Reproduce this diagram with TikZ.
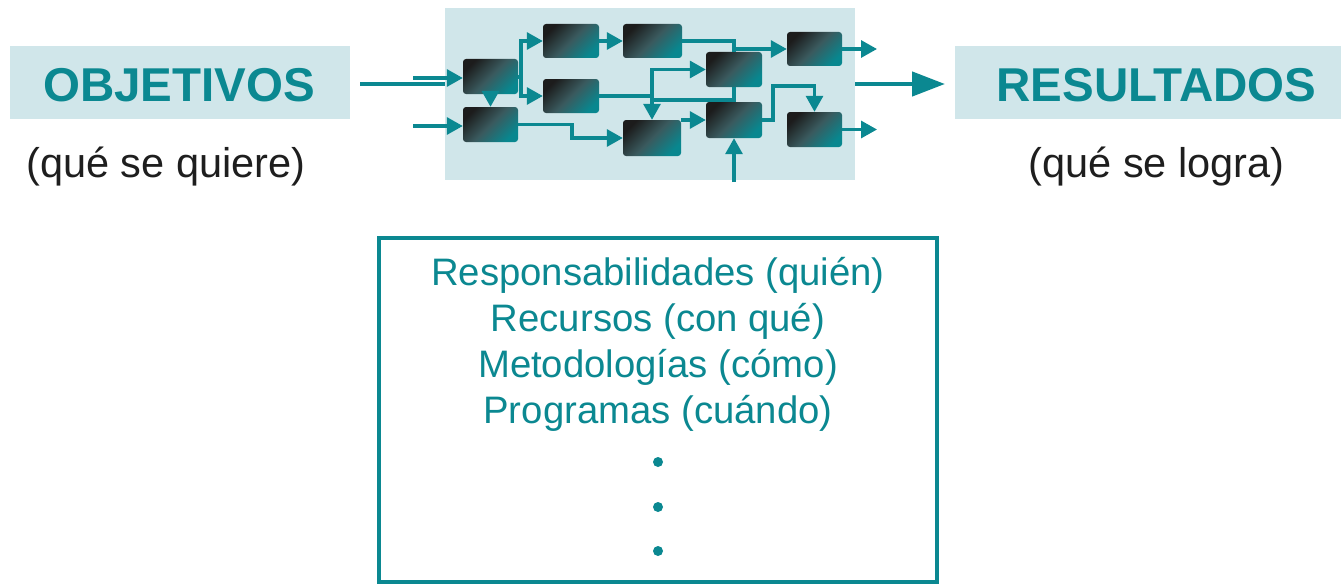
\documentclass[tikz,border=0pt]{standalone}
\usepackage{fontspec}
\setmainfont{Liberation Sans}
\usetikzlibrary{arrows.meta}
\definecolor{tealc}{HTML}{0B8891}
\definecolor{lightb}{HTML}{D0E6EA}
\definecolor{darkt}{HTML}{1E1E1E}
\definecolor{blkdark}{HTML}{1C1C1C}
\definecolor{blkmid}{HTML}{3A5A5E}
\definecolor{blkend}{HTML}{08878F}
\tikzset{
  titlebox/.style={fill=lightb, draw=none, inner sep=0pt},
  titletext/.style={text=tealc, font=\fontsize{47.5}{50}\selectfont\bfseries, inner sep=0pt},
  subtext/.style={text=darkt, font=\fontsize{41.5}{44}\selectfont, inner sep=0pt},
  blk/.style={rounded corners=3pt, inner sep=0pt, draw=none,
    left color=blkdark, right color=blkend, middle color=blkmid, shading angle=45},
  arr/.style={draw=tealc, line width=3.2pt, -{Triangle[length=16pt,width=17pt]}},
  ln/.style={draw=tealc, line width=3.2pt},
  thickln/.style={draw=tealc, line width=4.5pt},
  thickarr/.style={draw=tealc, line width=4.5pt, -{Triangle[length=33pt,width=24pt]}},
  dotn/.style={circle, fill=tealc, minimum size=10pt, inner sep=0pt},
}
\begin{document}
\begin{tikzpicture}[x=1pt,y=-1pt]
\useasboundingbox (0,0) rectangle (1341,586);
% title boxes
\node[titlebox, minimum width=340pt, minimum height=73pt] (objbox) at (180,82.5) {};
\node[titletext] (obj) at (179,85.5) {OBJETIVOS};
\node[subtext] (objsub) at (166,166.5) {(qué se quiere)};
\node[titlebox, minimum width=386pt, minimum height=73pt] (resbox) at (1148,82.5) {};
\node[titletext] (res) at (1156.5,85.5) {RESULTADOS};
\node[subtext] (ressub) at (1156.5,166.5) {(qué se logra)};
% network
\node[fill=lightb, inner sep=0pt, minimum width=410pt, minimum height=172pt] (net) at (650,94) {};
\node[blk, minimum width=55pt, minimum height=35pt] (B1) at (490.5,76.5) {};
\node[blk, minimum width=55pt, minimum height=35pt] (B2) at (490.5,124.5) {};
\node[blk, minimum width=56pt, minimum height=34pt] (B3) at (571,41) {};
\node[blk, minimum width=56pt, minimum height=34pt] (B5) at (571,96) {};
\node[blk, minimum width=59pt, minimum height=34pt] (B4) at (652.5,41) {};
\node[blk, minimum width=58pt, minimum height=36pt] (B6) at (652,138) {};
\node[blk, minimum width=56pt, minimum height=35pt] (B7) at (734,69.5) {};
\node[blk, minimum width=56pt, minimum height=36pt] (B8) at (734,120) {};
\node[blk, minimum width=55pt, minimum height=34pt] (B9) at (814.5,49) {};
\node[blk, minimum width=55pt, minimum height=35pt] (B10) at (814.5,129.5) {};
\coordinate (t1) at (360,84);
\coordinate (t2) at (945,84);
\coordinate (in1) at (413,78);
\coordinate (in2) at (413,126);
\coordinate (in3) at (734,182);
\coordinate (j1) at (521,77);
\coordinate (j4) at (734,100);
\coordinate (j6) at (773,86);
\coordinate (out1) at (877,49);
\coordinate (out2) at (877,129.5);
\draw[thickln] (t1) -- (t1 -| net.west);
\draw[thickarr] (t2 -| net.east) -- (t2);
\draw[arr] (in1) -- (in1 -| B1.west);
\draw[arr] (in2) -- (in2 -| B2.west);
\draw[arr] (B1.south) -- (B2.north);
\draw[ln] (B1.east |- j1) -- (j1);
\draw[arr] (j1) |- (B3.west);
\draw[arr] (j1) |- (B5.west);
\draw[arr] (B2.east) -- (572,124.5) |- (B6.west);
\draw[arr] (B3.east) -- (B4.west);
\draw[ln] (B4.east) -| (B7.north);
\draw[arr] (B7.north |- B9.west) -- (B9.west);
\draw[ln] (B7.south) -- (B8.north);
\draw[arr] (j4) -| (B6.north);
\draw[arr] (B5.east) -- (B5.east -| B6.north) |- (B7.west);
\draw[arr] (B6.east |- B8.west) -- (B8.west);
\draw[arr] (B8.east) -| (j6) -| (B10.north);
\draw[arr] (in3) -- (B8.south);
\draw[arr] (B9.east) -- (out1);
\draw[arr] (B10.east) -- (out2);
% bottom box
\node[draw=tealc, line width=4pt, minimum width=558pt, minimum height=344pt, inner sep=0pt] (info) at (658,410) {};
\node[text=tealc, align=center, inner sep=0pt, font=\fontsize{38.3}{46}\selectfont] (items) at (658,344) {Responsabilidades (quién)\\Recursos (con qué)\\Metodologías (cómo)\\Programas (cuándo)};
\node[dotn] (d1) at (658,462) {};
\node[dotn] (d2) at (658,507) {};
\node[dotn] (d3) at (658,551) {};
\end{tikzpicture}
\end{document}
